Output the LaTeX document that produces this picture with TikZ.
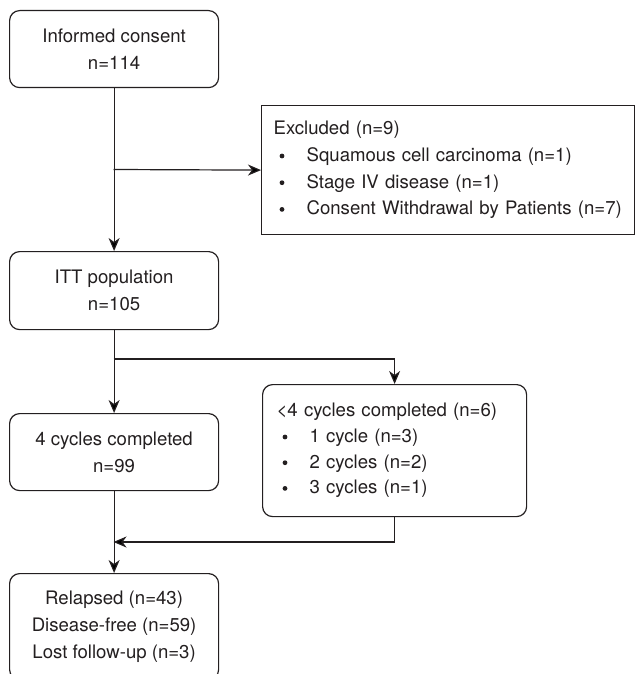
\documentclass[tikz,border=0pt]{standalone}
\usepackage{fontspec}
\setmainfont{TeX Gyre Heros}
\usetikzlibrary{arrows.meta}
\definecolor{ink}{HTML}{231F20}
\newcommand{\bul}{\hspace*{6pt}\makebox[27pt][l]{\tikz[baseline=-5.5pt]\fill[ink] (0,0) circle (2.4pt);}}
\begin{document}
\begin{tikzpicture}[x=1pt,y=-1pt,
  every node/.style={font=\fontsize{18.6}{27}\selectfont, text=ink},
  rbox/.style={draw=ink, line width=1.2pt, rounded corners=10pt, inner sep=0pt, align=center},
  sbox/.style={draw=ink, line width=1.2pt, inner sep=0pt},
  arr/.style={draw=ink, line width=1.2pt, -{Stealth[length=13pt,width=11pt,inset=4pt]}}]
\clip (0,0) rectangle (635,674);
\node[rbox, anchor=north west, minimum width=209pt, minimum height=77pt] (cons) at (9,10) {Informed consent\\n=114};
\node[sbox, anchor=north west, minimum width=373pt, minimum height=129pt, text width=349pt, inner xsep=12pt, align=left, font=\fontsize{18.6}{26.7}\selectfont] (excl) at (261,105) {Excluded (n=9)\\\bul Squamous cell carcinoma (n=1)\\\bul Stage IV disease (n=1)\\\bul Consent Withdrawal by Patients (n=7)};
\node[rbox, anchor=north west, minimum width=209pt, minimum height=78pt] (itt) at (9,251) {ITT population\\n=105};
\node[rbox, anchor=north west, minimum width=264pt, minimum height=132pt, text width=236pt, inner xsep=14pt, align=left, font=\fontsize{18.6}{25.7}\selectfont] (less) at (262,384) {<4 cycles completed (n=6)\\\bul 1 cycle (n=3)\\\bul 2 cycles (n=2)\\\bul 3 cycles (n=1)};
\node[rbox, anchor=north west, minimum width=209pt, minimum height=77pt] (four) at (9,413) {4 cycles completed\\n=99};
\node[rbox, anchor=north west, minimum width=209pt, minimum height=106pt] (out) at (9,573) {Relapsed (n=43)\\Disease-free (n=59)\\Lost follow-up (n=3)};
\coordinate (b1) at (113.5,169.5);
\coordinate (b2) at (113.5,359);
\coordinate (m) at (113.5,542);
\draw[arr] (cons.south) -- (itt.north);
\draw[arr] (b1) -- (excl.west);
\draw[arr] (itt.south) -- (four.north);
\draw[arr] (b2) -| (less.north);
\draw[arr] (four.south) -- (out.north);
\draw[arr] (less.south) |- (m);
\end{tikzpicture}
\end{document}
